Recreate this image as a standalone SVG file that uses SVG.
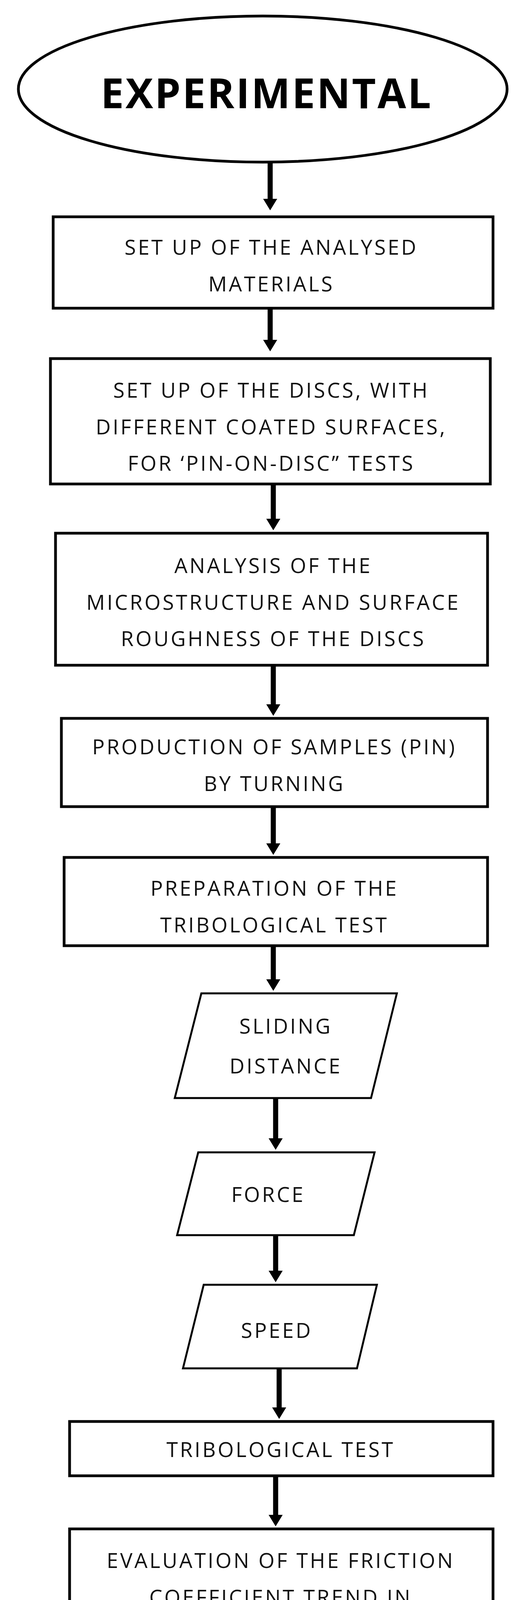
<svg xmlns="http://www.w3.org/2000/svg" width="1330" height="5449" viewBox="0 0 1330 5449">
<style>
.n{fill:#fff;stroke:#000;stroke-width:7}
.t{font-family:"Open Sans","Liberation Sans",sans-serif;font-size:53px;letter-spacing:5px;fill:#111;text-anchor:middle}
.c{stroke:#000;stroke-width:13;fill:none}
</style>
<defs>
<marker id="ah" markerUnits="userSpaceOnUse" markerWidth="44" markerHeight="36" refX="0" refY="22" orient="auto" viewBox="0 0 36 44">
<path d="M0,0 L36,22 L0,44 Z" fill="#000"/>
</marker>
</defs>
<rect width="1330" height="5449" fill="#fff"/>
<g id="connectors">
<line class="c" x1="691" y1="415" x2="691" y2="509" marker-end="url(#ah)"/>
<line class="c" x1="691" y1="789" x2="691" y2="870" marker-end="url(#ah)"/>
<line class="c" x1="699" y1="1239" x2="699" y2="1328" marker-end="url(#ah)"/>
<line class="c" x1="699" y1="1703" x2="699" y2="1803" marker-end="url(#ah)"/>
<line class="c" x1="699" y1="2065" x2="699" y2="2159" marker-end="url(#ah)"/>
<line class="c" x1="699" y1="2421" x2="699" y2="2507" marker-end="url(#ah)"/>
<line class="c" x1="705" y1="2811" x2="705" y2="2914" marker-end="url(#ah)"/>
<line class="c" x1="705" y1="3162" x2="705" y2="3253" marker-end="url(#ah)"/>
<line class="c" x1="714" y1="3503" x2="714" y2="3603" marker-end="url(#ah)"/>
<line class="c" x1="705" y1="3778" x2="705" y2="3878" marker-end="url(#ah)"/>
<line class="c" x1="714" y1="4337" x2="714" y2="4438" marker-end="url(#ah)"/>
<line class="c" x1="720" y1="5017" x2="720" y2="5114" marker-end="url(#ah)"/>
</g>
<g id="start">
<ellipse class="n" cx="672" cy="228" rx="625" ry="187"/>
<text x="682" y="277" style="font-family:'Open Sans','Liberation Sans',sans-serif;font-weight:bold;font-size:106px;letter-spacing:4px;text-anchor:middle" fill="#000">EXPERIMENTAL</text>
</g>
<g id="n1">
<rect class="n" x="136" y="555" width="1125" height="234"/>
<text class="t" x="694" y="652">SET UP OF THE ANALYSED</text>
<text class="t" x="694" y="746">MATERIALS</text>
</g>
<g id="n2">
<rect class="n" x="129" y="918" width="1125" height="321"/>
<text class="t" x="694" y="1018">SET UP OF THE DISCS, WITH</text>
<text class="t" x="694" y="1112">DIFFERENT COATED SURFACES,</text>
<text class="t" x="694" y="1205">FOR ‘PIN-ON-DISC” TESTS</text>
</g>
<g id="n3">
<rect class="n" x="142" y="1365" width="1105" height="338"/>
<text class="t" x="699" y="1467">ANALYSIS OF THE</text>
<text class="t" x="699" y="1561">MICROSTRUCTURE AND SURFACE</text>
<text class="t" x="699" y="1654">ROUGHNESS OF THE DISCS</text>
</g>
<g id="n4">
<rect class="n" x="157" y="1839" width="1090" height="226"/>
<text class="t" x="702" y="1931">PRODUCTION OF SAMPLES (PIN)</text>
<text class="t" x="702" y="2025">BY TURNING</text>
</g>
<g id="n5">
<rect class="n" x="164" y="2195" width="1083" height="226"/>
<text class="t" x="702" y="2293">PREPARATION OF THE</text>
<text class="t" x="702" y="2387">TRIBOLOGICAL TEST</text>
</g>
<g id="p1">
<polygon class="n" points="515,2543 1015,2543 949,2811 447,2811" style="stroke-width:5"/>
<text class="t" x="731" y="2646">SLIDING</text>
<text class="t" x="731" y="2748">DISTANCE</text>
</g>
<g id="p2">
<polygon class="n" points="507,2950 958,2950 905,3162 453,3162" style="stroke-width:5"/>
<text class="t" x="686" y="3077">FORCE</text>
</g>
<g id="p3">
<polygon class="n" points="521,3289 964,3289 913,3503 468,3503" style="stroke-width:5"/>
<text class="t" x="708" y="3425">SPEED</text>
</g>
<g id="n6">
<rect class="n" x="178" y="3639" width="1083" height="139"/>
<text class="t" x="718" y="3730">TRIBOLOGICAL TEST</text>
</g>
<g id="n7">
<rect class="n" x="178" y="3914" width="1083" height="423"/>
<text class="t" x="718" y="4014">EVALUATION OF THE FRICTION</text>
<text class="t" x="718" y="4108">COEFFICIENT TREND IN</text>
<text class="t" x="718" y="4202">FUNCTION OF THE SLIDING</text>
<text class="t" x="718" y="4298">DISTANCE</text>
</g>
<g id="n8">
<rect class="n" x="178" y="4474" width="1083" height="523"/>
<text class="t" x="718" y="4565">MEASUREMENT OF THE WORN</text>
<text class="t" x="718" y="4658">DIAMETER OF THE PIN (AFTER</text>
<text class="t" x="718" y="4751">THE TEST) FOR THE</text>
<text class="t" x="718" y="4852">CALCULATION OF THE WEAR</text>
<text class="t" x="718" y="4946">RATE</text>
</g>
<g id="n9">
<rect class="n" x="178" y="5150" width="1083" height="245"/>
<text class="t" x="718" y="5245">ANALYSIS OF THE PIN AND OF</text>
<text class="t" x="718" y="5339">THE WEAR TRACES OF THE DISCS</text>
</g>
</svg>
